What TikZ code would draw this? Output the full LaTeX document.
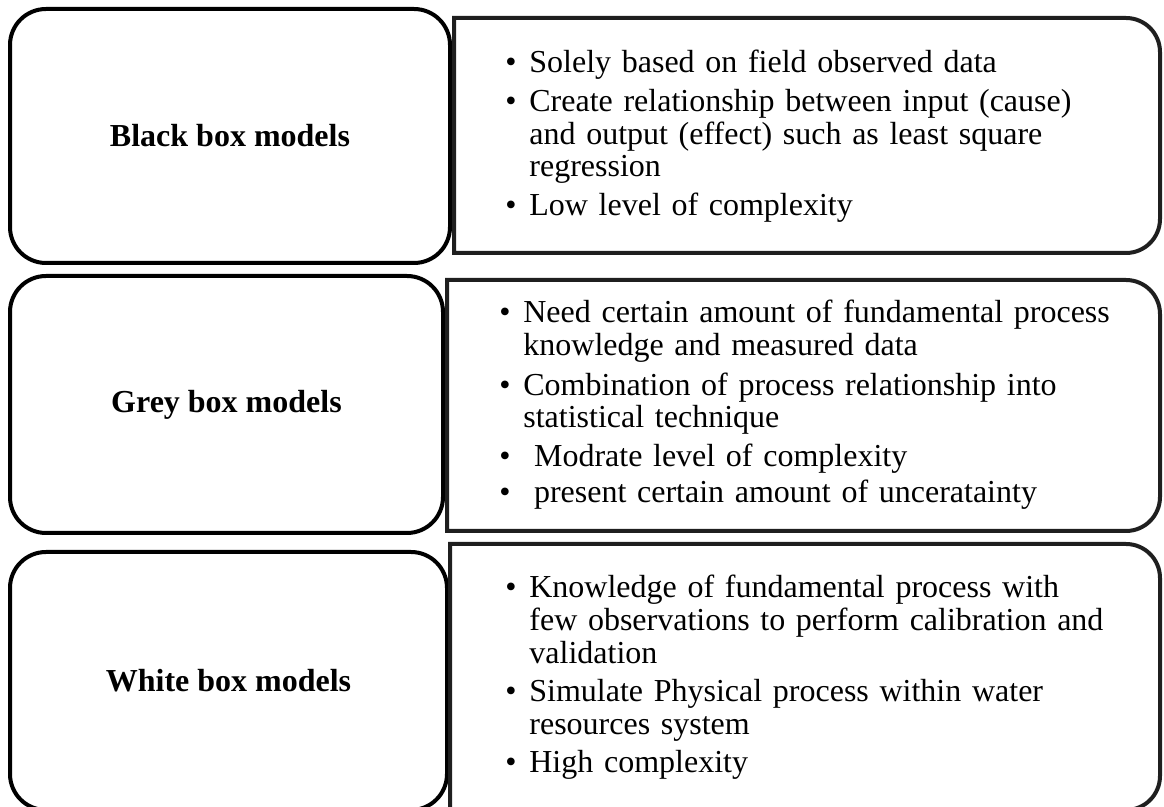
\documentclass[tikz,border=0pt]{standalone}
\usepackage{fontspec}
\setmainfont{Liberation Serif}
\newcommand{\bul}{\makebox[12pt][l]{\textbullet}}
\newcommand{\ind}{\hspace*{12pt}}

\begin{document}
\begin{tikzpicture}[
        x=0.5pt, y=-0.5pt,
        labelbox/.style={draw, line width=2pt, rounded corners=18pt, inner sep=0pt,
                    align=center, font=\fontsize{16}{19}\selectfont\bfseries},
        listframe/.style={draw=black!88, line width=2pt},
        listtext/.style={anchor=base west, inner sep=0pt, text width=330pt, align=left,
                    font=\fontsize{16}{16.3}\selectfont},
    ]
    \useasboundingbox (0,0) rectangle (1164,807);
    \clip (0,0) rectangle (1164,807);

    % left column
    \node[labelbox, minimum width=220pt, minimum height=127pt] (black) at (230,136) {Black box models};
    \node[labelbox, minimum width=216.5pt, minimum height=128.5pt] (grey) at (226.5,404.5) {Grey box models};
    \node[labelbox, minimum width=218.5pt, minimum height=129pt] (white) at (228.5,681) {White box models};

    % right column
    \draw[listframe] (800,18) [rounded corners=17pt] -- (1160,18) -- (1160,253) -- (800,253)
        [sharp corners] -- (454,253) -- (454,18) -- cycle;
    \draw[listframe] (800,280) [rounded corners=17pt] -- (1160,280) -- (1160,531) -- (800,531)
        [sharp corners] -- (447,531) -- (447,280) -- cycle;
    \draw[listframe] (800,544) [rounded corners=17pt] -- (1160,544) -- (1160,810) -- (800,810)
        [sharp corners] -- (450,810) -- (450,544) -- cycle;

    \node[listtext] (blacklist) at (505,73) {%
        \bul Solely based on field observed data\\[3pt]
        \bul Create relationship between input (cause)\\
        \ind and output (effect) such as least square\\
        \ind regression\\[3pt]
        \bul Low level of complexity};
    \node[listtext] (greylist) at (499,323) {%
        \bul Need certain amount of fundamental process\\
        \ind knowledge and measured data\\[3.5pt]
        \bul Combination of process relationship into\\
        \ind statistical technique\\[3pt]
        \bul\ Modrate level of complexity\\[2pt]
        \bul\ present certain amount of unceratainty};
    \node[listtext] (whitelist) at (505,598) {%
        \bul Knowledge of fundamental process with\\
        \ind few observations to perform calibration and\\
        \ind validation\\[3pt]
        \bul Simulate Physical process within water\\
        \ind resources system\\[3pt]
        \bul High complexity};
\end{tikzpicture}
\end{document}
